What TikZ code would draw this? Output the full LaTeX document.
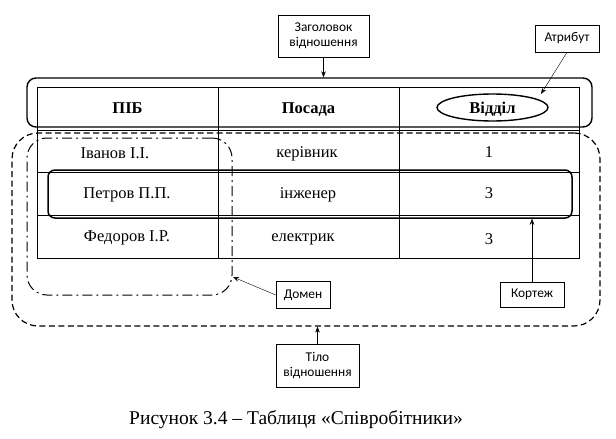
\documentclass[tikz,border=0pt]{standalone}
\usepackage{fontspec}
\setmainfont{Liberation Serif}
\newfontfamily\lblfont{Carlito}
\usetikzlibrary{positioning,arrows.meta,shapes.geometric}

\begin{document}
\begin{tikzpicture}[x=1pt,y=-1pt,>={Stealth[length=6pt,width=4.5pt]},
   lbl/.style={draw, line width=0.6pt, align=center, inner sep=1pt, font=\lblfont\fontsize{13.4}{15.5}\selectfont},
   cell/.style={font=\fontsize{16.5}{19}\selectfont, text height=0.7em, text depth=0.2em},
   hd/.style={cell, font=\fontsize{16.5}{19}\selectfont\bfseries},
   gr/.style={line width=0.7pt}]
  \useasboundingbox (0,0) rectangle (616,439);
  % table grid
  \draw[gr] (37,87) rectangle (579,258);
  \draw[gr] (218,87) -- (218,258) (399,87) -- (399,258);
  \draw[gr] (37,130) -- (579,130) (37,172) -- (579,172) (37,215) -- (579,215);
  % header
  \node[hd] (pib) at (127.5,110.5) {ПІБ};
  \node[hd] (pos) at (308.5,110.5) {Посада};
  \node[draw, ellipse, line width=1.4pt, inner sep=0pt, minimum width=111, minimum height=27] (vid) at (492.5,107.5) {};
  \node[hd] (vidt) at (492.5,110.5) {Відділ};
  \node[draw, line width=1.4pt, rounded corners=9, minimum width=565, minimum height=49] (head) at (309.5,102.5) {};
  % rows
  \node[cell] (r1a) at (115,155.5) {Іванов І.І.};
  \node[cell] (r1b) at (307,154.5) {керівник};
  \node[cell] (r1c) at (489,154.5) {1};
  \node[cell] (r2a) at (127,196) {Петров П.П.};
  \node[cell] (r2b) at (308,196) {інженер};
  \node[cell] (r2c) at (489,196) {3};
  \node[cell] (r3a) at (127,239) {Федоров І.Р.};
  \node[cell] (r3b) at (303,239) {електрик};
  \node[cell] (r3c) at (489,242) {3};
  % body, domain, tuple
  \node[draw, dash pattern=on 6pt off 3.5pt, line width=1.2pt, rounded corners=26, minimum width=588, minimum height=193] (body) at (306,229.5) {};
  \node[draw, dash pattern=on 10pt off 4pt on 2pt off 4pt, line width=1pt, rounded corners=20, minimum width=205, minimum height=157] (domain) at (129.5,216.5) {};
  \node[draw, line width=1.5pt, rounded corners=7, minimum width=524, minimum height=48] (tuple) at (310,194) {};
  % labels
  \node[lbl, minimum width=91, minimum height=42] (zag) at (323.5,36) {Заголовок\\відношення};
  \node[lbl, minimum width=64, minimum height=27] (atr) at (567,38.5) {Атрибут};
  \node[lbl, minimum width=54, minimum height=27] (dom) at (303,295) {Домен};
  \node[lbl, minimum width=64, minimum height=25] (kor) at (532,294.5) {Кортеж};
  \node[lbl, minimum width=83, minimum height=43] (tilo) at (317.5,365.5) {Тіло\\відношення};
  \coordinate (atip) at (541,94);
  \coordinate (dtip) at (233,277);
  \draw[->] (zag) -- (zag.south |- head.north);
  \draw[->] (atr.south) -- (atip);
  \draw[->] (dom.west) -- (dtip);
  \draw[->] (kor) -- (kor.north |- tuple.south);
  \draw[->] (tilo) -- (tilo.north |- body.south);
  % caption
  \node[font=\fontsize{19.5}{22}\selectfont] (cap) at (296,420) {Рисунок 3.4 – Таблиця «Співробітники»};
\end{tikzpicture}
\end{document}
